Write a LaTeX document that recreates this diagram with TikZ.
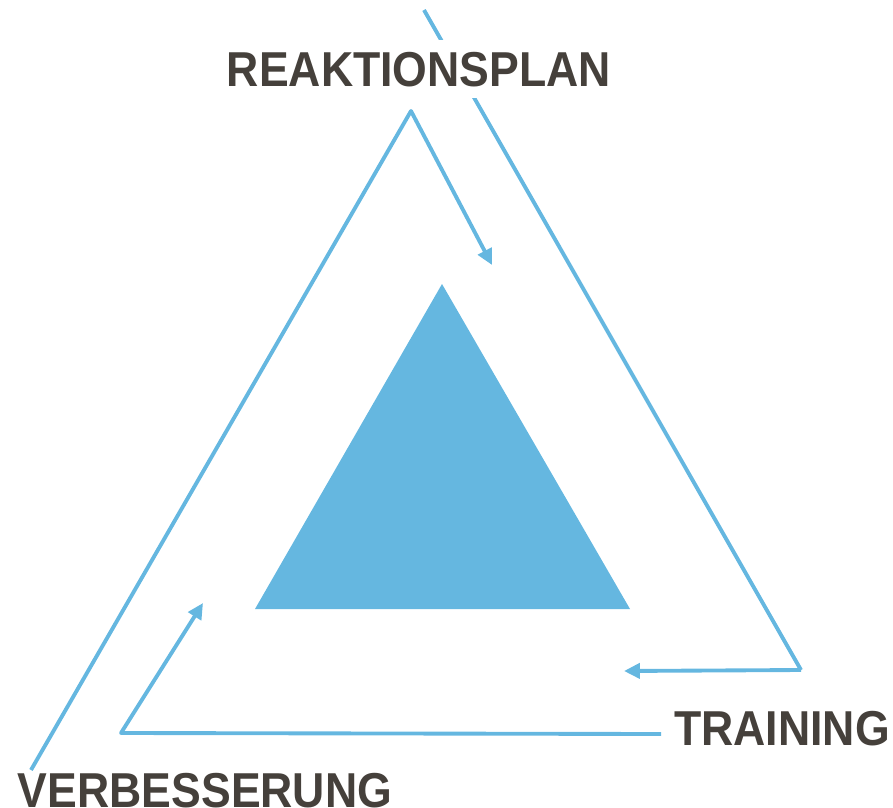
\documentclass[tikz,border=0pt]{standalone}
\usepackage{fontspec}
\setmainfont{Liberation Sans}
\usetikzlibrary{arrows.meta}
\definecolor{hellblau}{HTML}{65B7E0}
\definecolor{dunkelgrau}{HTML}{45403B}
\begin{document}
\begin{tikzpicture}[x=0.02cm,y=-0.02cm]
\tikzset{
	linie/.style={draw=hellblau, line width=2.2pt, line join=round},
	pfeil/.style={linie, -{Triangle[length=9pt,width=8.5pt]}},
	marke/.style={text=dunkelgrau, font=\fontsize{27.9}{30}\selectfont\bfseries, anchor=base}
}
\useasboundingbox (0,0) rectangle (893,808);

% Dreieck in der Mitte
\filldraw[fill=hellblau, draw=none] (442,284) -- (255,609) -- (630,609) -- cycle;

% Reaktionsplan -> Training
\coordinate (r_0) at (424,10);
\coordinate (r_1) at (801,670);
\coordinate (r_2) at (624,671);
\draw[linie] (r_0) -- (r_1);
\draw[pfeil] (r_1) -- (r_2);

% Verbesserung -> Reaktionsplan
\coordinate (v_0) at (31,770);
\coordinate (v_1) at (411,111);
\coordinate (v_2) at (492,265);
\draw[pfeil] (v_0) -- (v_1) -- (v_2);

% Training -> Verbesserung
\coordinate (t_0) at (661,734);
\coordinate (t_1) at (121,733);
\coordinate (t_2) at (203,603);
\draw[pfeil] (t_0) -- (t_1) -- (t_2);

% Beschriftungen
\node[marke, fill=white, inner xsep=2pt, inner ysep=0.23cm] (reaktion) at (419,86) {\scalebox{0.91}[1]{REAKTIONSPLAN}};
\node[marke, inner sep=0pt] (training) at (782,745) {\scalebox{0.91}[1]{TRAINING}};
\node[marke, inner sep=0pt] (verbesserung) at (205,807) {\scalebox{0.91}[1]{VERBESSERUNG}};

\end{tikzpicture}
\end{document}
